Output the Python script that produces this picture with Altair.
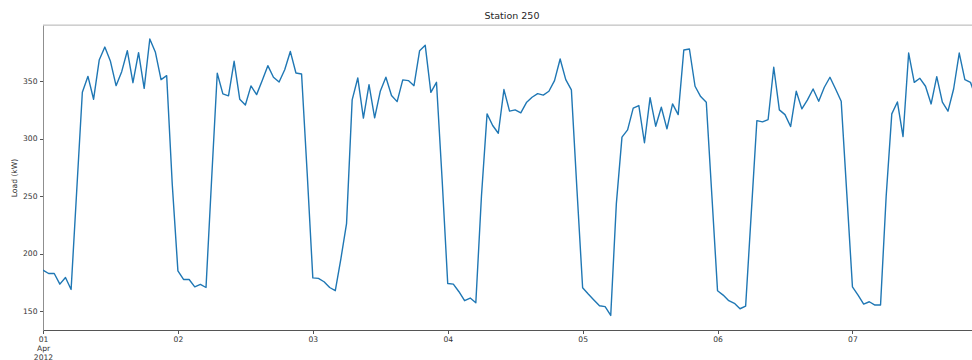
import altair as alt
import pandas as pd

# Hourly load readings for Station 250, one list per day (kW)
day1 = [185.6, 182.7, 182.7, 173.4, 179.2, 168.8, 255.0, 340.4, 354.3, 334.4, 368.5, 379.8,
        367.4, 346.2, 358.4, 376.6, 348.8, 374.9, 343.9, 386.8, 375.2, 351.4, 354.9, 260.0]
day2 = [185.0, 177.5, 177.5, 171.1, 173.2, 170.5, 265.0, 357.0, 339.0, 337.3, 367.4, 334.4,
        329.4, 346.0, 338.4, 350.6, 363.6, 353.5, 349.4, 360.1, 376.0, 357.2, 356.4, 270.0]
day3 = [178.9, 178.4, 175.5, 170.5, 167.7, 195.7, 226.1, 333.8, 352.9, 317.9, 347.1, 318.2,
        341.3, 353.5, 337.6, 332.3, 351.2, 350.6, 346.2, 376.6, 381.3, 340.4, 349.1, 265.0]
day4 = [174.0, 173.4, 166.8, 159.0, 161.3, 157.2, 250.0, 321.6, 311.5, 304.8, 342.8, 324.0,
        325.1, 322.5, 331.5, 336.1, 339.3, 338.0, 341.3, 350.6, 369.4, 351.4, 342.5, 255.0]
day5 = [170.3, 164.8, 159.6, 154.6, 153.8, 146.2, 243.5, 301.4, 307.7, 326.6, 328.9, 296.5,
        335.8, 310.9, 327.4, 308.6, 330.3, 321.0, 377.2, 378.1, 345.7, 336.7, 331.8, 250.0]
day6 = [167.7, 163.9, 159.0, 156.7, 152.0, 154.3, 235.0, 315.8, 314.7, 316.7, 362.2, 325.1,
        321.0, 310.6, 341.3, 326.0, 333.8, 343.3, 332.6, 344.8, 353.5, 343.3, 332.6, 252.0]
day7 = [171.1, 163.9, 156.1, 158.1, 155.2, 155.2, 250.0, 321.6, 332.0, 301.9, 374.6, 349.1,
        352.6, 345.7, 330.3, 354.0, 331.8, 324.0, 343.3, 374.6, 351.4, 349.1, 335.0]

load = day1 + day2 + day3 + day4 + day5 + day6 + day7

HOUR_MS = 3_600_000
DAY_MS = 24 * HOUR_MS
START_MS = 1333238400000  # 2012-04-01 00:00 UTC

times = [START_MS + i * HOUR_MS for i in range(len(load))]
df = pd.DataFrame({"time": times, "load": load})

day_ticks = [START_MS + d * DAY_MS for d in range(7)]
y_ticks = [150, 200, 250, 300, 350]

W, H = 929, 305
FONT = "DejaVu Sans"
SPINE = "#555555"

x_enc = alt.X(
    "time:T",
    scale=alt.Scale(type="utc", domain=[START_MS, START_MS + int(165.27 * HOUR_MS)], nice=False),
    axis=alt.Axis(
        values=day_ticks,
        labelExpr="utcFormat(datum.value, '%d') == '01' ? ['01', 'Apr', '2012'] : utcFormat(datum.value, '%d')",
        title=None,
        grid=False,
        tickSize=3.5,
        labelPadding=1.5,
        labelLineHeight=9.2,
        labelAngle=0,
        labelAlign="center",
        labelBaseline="top",
        labelFlush=False,
        labelFontSize=7.6,
        labelColor="#333333",
        labelFont=FONT,
        domainColor=SPINE,
        tickColor=SPINE,
        domainWidth=1,
    ),
)

y_enc = alt.Y(
    "load:Q",
    scale=alt.Scale(domain=[133.5, 399], nice=False, zero=False),
    axis=alt.Axis(
        values=y_ticks,
        title="Load (kW)",
        grid=False,
        tickSize=3.5,
        labelPadding=2.5,
        labelFontSize=7.6,
        labelColor="#333333",
        labelFont=FONT,
        titleFont=FONT,
        titleFontSize=7.6,
        titleFontWeight="normal",
        titleColor="#262626",
        titlePadding=4,
        domainColor="#8f8f8f",
        tickColor=SPINE,
    ),
)

line = alt.Chart(df).mark_line(
    color="#1f77b4", strokeWidth=1.4, strokeJoin="round", clip=True
).encode(x=x_enc, y=y_enc)

top_border = alt.Chart(pd.DataFrame({"edge": [0]})).mark_rule(
    color="#c2c2c2", strokeWidth=1
).encode(x=alt.value(0), x2=alt.value(W), y=alt.value(0))

chart = (
    alt.layer(line, top_border)
    .properties(
        width=W,
        height=H,
        title=alt.TitleParams(
            "Station 250",
            font=FONT,
            fontSize=9.5,
            fontWeight="normal",
            color="#262626",
            offset=4.5,
            dx=4.5,
        ),
        autosize=alt.AutoSizeParams(type="none"),
        padding={"left": 43, "top": 25, "right": 0, "bottom": 30},
    )
    .configure_view(stroke=None)
    .configure(background="white")
)

chart.save("out.html", embed_options={"renderer": "svg", "actions": False})
